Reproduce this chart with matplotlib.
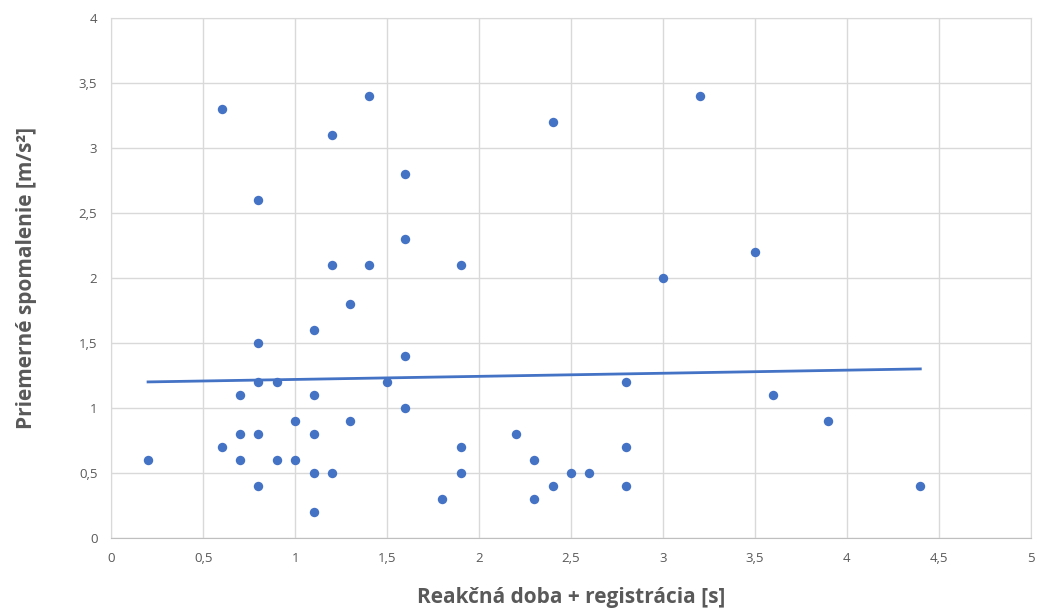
import numpy as np
import matplotlib.pyplot as plt
from matplotlib.ticker import FuncFormatter

# Data
reaction_time = [0.6, 1.4, 1.2, 2.4, 3.2, 1.6, 0.8, 1.6, 3.5, 1.2, 1.4, 1.9, 3.0,
                 1.3, 1.1, 0.8, 1.6, 0.8, 0.9, 1.5, 2.8, 0.7, 1.1, 3.6, 1.6, 1.0,
                 1.3, 3.9, 0.7, 0.8, 1.1, 2.2, 0.6, 1.9, 2.8, 0.2, 0.7, 0.9, 1.0,
                 2.3, 1.1, 1.2, 1.9, 2.5, 2.6, 0.8, 2.4, 2.8, 4.4, 1.8, 2.3, 1.1]
deceleration = [3.3, 3.4, 3.1, 3.2, 3.4, 2.8, 2.6, 2.3, 2.2, 2.1, 2.1, 2.1, 2.0,
                1.8, 1.6, 1.5, 1.4, 1.2, 1.2, 1.2, 1.2, 1.1, 1.1, 1.1, 1.0, 0.9,
                0.9, 0.9, 0.8, 0.8, 0.8, 0.8, 0.7, 0.7, 0.7, 0.6, 0.6, 0.6, 0.6,
                0.6, 0.5, 0.5, 0.5, 0.5, 0.5, 0.4, 0.4, 0.4, 0.4, 0.3, 0.3, 0.2]

trend_x = [0.2, 4.4]
trend_y = [1.2, 1.3]

x_ticks = [0, 0.5, 1, 1.5, 2, 2.5, 3, 3.5, 4, 4.5, 5]
y_ticks = [0, 0.5, 1, 1.5, 2, 2.5, 3, 3.5, 4]

BLUE = "#4472C4"
GRID = "#D9D9D9"
TEXT = "#595959"

fig = plt.figure(figsize=(10.4, 6.1), dpi=100)
ax = fig.add_axes([0.107, 0.118, 0.884, 0.853])

ax.scatter(reaction_time, deceleration, s=46, color=BLUE, zorder=3, linewidths=0)
ax.plot(trend_x, trend_y, color=BLUE, linewidth=2, zorder=2)

ax.set_xlim(0, 5)
ax.set_ylim(0, 4)
ax.set_xticks(x_ticks)
ax.set_yticks(y_ticks)
fmt = FuncFormatter(lambda v, p: f"{v:g}".replace(".", ","))
ax.xaxis.set_major_formatter(fmt)
ax.yaxis.set_major_formatter(fmt)
ax.grid(True, color=GRID, linewidth=1, zorder=0)
ax.set_axisbelow(True)
for s in ["top", "right", "left"]:
    ax.spines[s].set_color(GRID)
ax.spines["bottom"].set_color("#BFBFBF")
ax.tick_params(length=0, colors=TEXT, labelsize=9.5, pad=10)
for lbl in ax.get_xticklabels() + ax.get_yticklabels():
    lbl.set_family("Open Sans")

ax.set_xlabel("Reakčná doba + registrácia [s]", fontsize=15, fontweight="bold",
              color=TEXT, family="Open Sans", labelpad=16)
ax.set_ylabel("Priemerné spomalenie [m/s²]", fontsize=15, fontweight="bold",
              color=TEXT, family="Open Sans", labelpad=30)

fig.savefig("out.png", dpi=100)
